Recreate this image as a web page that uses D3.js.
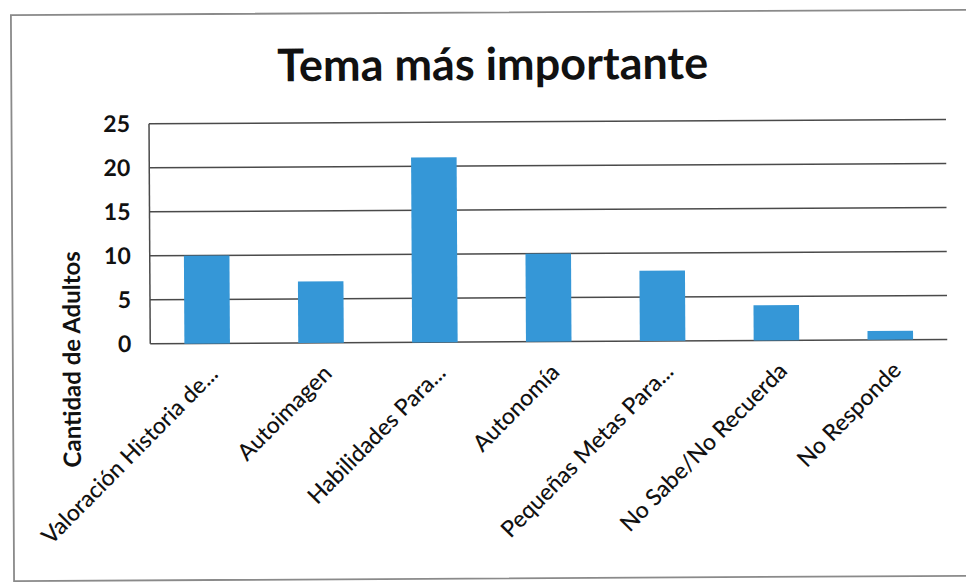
<!DOCTYPE html>
<html>
<head>
<meta charset="utf-8">
<script src="https://cdn.jsdelivr.net/npm/d3@7"></script>
<style>
  html, body { margin: 0; padding: 0; background: #ffffff; }
  svg { display: block; }
  text { font-family: Lato, "Open Sans", "DejaVu Sans", sans-serif; fill: #111; }
</style>
</head>
<body>
<svg id="chart" width="966" height="583"></svg>
<script>
// Respuestas: tema más importante del programa
const categories = [
  "Valoración Historia de...",
  "Autoimagen",
  "Habilidades Para...",
  "Autonomía",
  "Pequeñas Metas Para...",
  "No Sabe/No Recuerda",
  "No Responde"
];
const values = [10, 7, 21, 10, 8, 4, 1];
const yTicks = [0, 5, 10, 15, 20, 25];
const title = "Tema más importante";
const yTitle = "Cantidad de Adultos";

const plot = { left: 150, right: 947, top: 122, bottom: 342 };

const svg = d3.select("#chart");
const root = svg.append("g").attr("transform", "rotate(-0.32 483 300)");

// outer frame of the chart area (right side runs past the edge)
root.append("rect")
  .attr("x", 12.5).attr("y", 12.5)
  .attr("width", 990).attr("height", 566)
  .attr("fill", "none").attr("stroke", "#8a8a8a").attr("stroke-width", 1.8);

const x = d3.scaleBand()
  .domain(categories)
  .range([plot.left, plot.right])
  .paddingInner(0.6)
  .paddingOuter(0.3);

const y = d3.scaleLinear().domain([0, 25]).range([plot.bottom, plot.top]);

// horizontal gridlines
root.append("g")
  .selectAll("line")
  .data(yTicks)
  .join("line")
  .attr("x1", plot.left).attr("x2", plot.right)
  .attr("y1", d => y(d)).attr("y2", d => y(d))
  .attr("stroke", "#4a4a4a").attr("stroke-width", 1.5);

// left edge of the plot area
root.append("line")
  .attr("x1", plot.left).attr("x2", plot.left)
  .attr("y1", y(25)).attr("y2", y(0))
  .attr("stroke", "#4a4a4a").attr("stroke-width", 1.5);

// bars
root.append("g")
  .selectAll("rect")
  .data(values)
  .join("rect")
  .attr("x", (d, i) => x(categories[i]))
  .attr("width", x.bandwidth())
  .attr("y", d => y(d))
  .attr("height", d => y(0) - y(d))
  .attr("fill", "#3597d7");

// y axis labels
const yAxis = d3.axisLeft(y).tickValues(yTicks).tickSize(0).tickPadding(19);
const gy = root.append("g").attr("transform", `translate(${plot.left},0)`).call(yAxis);
gy.select(".domain").remove();
gy.selectAll("text")
  .style("font-family", "Lato, 'Open Sans', sans-serif")
  .style("font-size", "23px").style("font-weight", "700").attr("fill", "#111");

// x axis labels, rotated
const xAxis = d3.axisBottom(x).tickSize(0).tickPadding(0);
const gx = root.append("g").attr("transform", `translate(0,${plot.bottom})`).call(xAxis);
gx.select(".domain").remove();
gx.selectAll("text")
  .style("font-family", "Lato, 'Open Sans', sans-serif")
  .style("font-size", "23px").style("font-weight", "500").attr("fill", "#111")
  .attr("text-anchor", "end")
  .attr("dy", 0)
  .attr("transform", "translate(12,32) rotate(-45)");

// y axis title
root.append("text")
  .attr("transform", `translate(80,357) rotate(-90)`)
  .attr("text-anchor", "middle")
  .style("font-size", "24px").style("font-weight", "700")
  .text(yTitle);

// chart title
root.append("text")
  .attr("x", 494).attr("y", 80)
  .attr("text-anchor", "middle")
  .style("font-size", "45px").style("font-weight", "700")
  .text(title);
</script>
</body>
</html>
